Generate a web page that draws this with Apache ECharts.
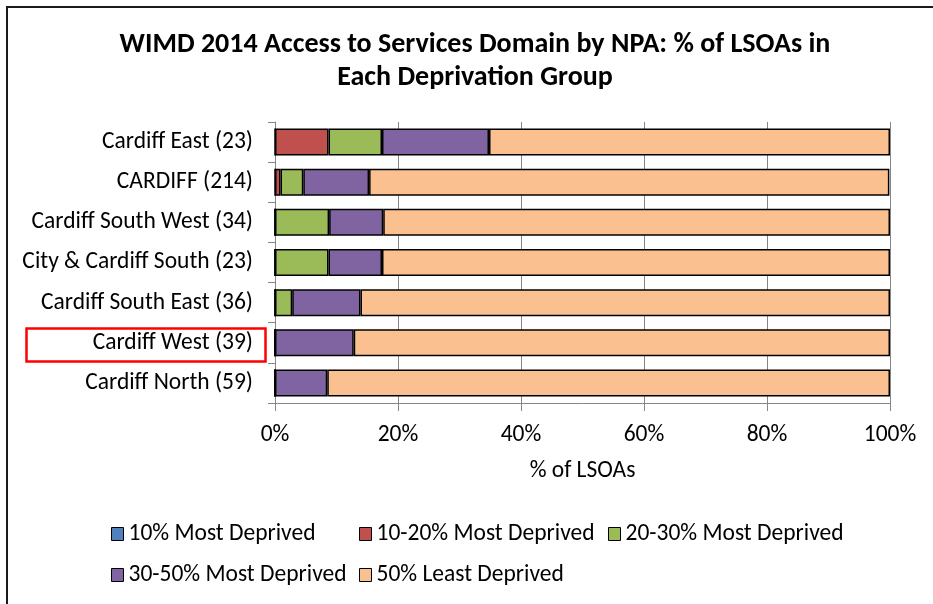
<!DOCTYPE html>
<html>
<head>
<meta charset="utf-8">
<title>WIMD 2014 Access to Services Domain by NPA</title>
<script src="https://cdn.jsdelivr.net/npm/echarts@6/dist/echarts.min.js"></script>
<style>
  html, body { margin: 0; padding: 0; background: #ffffff; }
  #chart { width: 933px; height: 604px; }
</style>
</head>
<body>
<div id="chart"></div>
<script>
// Neighbourhood Partnership Areas, listed top to bottom (LSOA count in brackets)
const areas = [
  'Cardiff East (23)',
  'CARDIFF (214)',
  'Cardiff South West (34)',
  'City & Cardiff South (23)',
  'Cardiff South East (36)',
  'Cardiff West (39)',
  'Cardiff North (59)'
];

// Share of LSOAs (%) in each deprivation group, same order as areas
const mostDeprived10   = [0, 0, 0, 0, 0, 0, 0];
const mostDeprived1020 = [8.7, 0.9, 0, 0, 0, 0, 0];
const mostDeprived2030 = [8.7, 3.7, 8.8, 8.7, 2.8, 0, 0];
const mostDeprived3050 = [17.4, 10.7, 8.8, 8.7, 11.1, 12.8, 8.5];
const leastDeprived50  = [65.2, 84.6, 82.4, 82.6, 86.1, 87.2, 91.5];

const groupNames = [
  '10% Most Deprived',
  '10-20% Most Deprived',
  '20-30% Most Deprived',
  '30-50% Most Deprived',
  '50% Least Deprived'
];
const groupValues = [mostDeprived10, mostDeprived1020, mostDeprived2030, mostDeprived3050, leastDeprived50];
const groupColors = ['#4F81BD', '#C0504D', '#9BBB59', '#8064A2', '#FAC090'];

const xTicks = [0, 20, 40, 60, 80, 100];

const FONT = "Carlito, 'Liberation Sans Narrow', 'Liberation Sans', sans-serif";
const LABEL_SIZE = 23.5;

const chart = echarts.init(document.getElementById('chart'), null, { renderer: 'canvas' });

const legendBase = {
  orient: 'vertical',
  top: 522,
  padding: 0,
  itemWidth: 12,
  itemHeight: 13,
  itemGap: 17,
  icon: 'rect',
  selectedMode: false,
  itemStyle: { borderColor: '#000', borderWidth: 1 },
  textStyle: { fontFamily: FONT, fontSize: LABEL_SIZE, lineHeight: 24, color: '#000' }
};

chart.setOption({
  animation: false,
  backgroundColor: '#ffffff',
  textStyle: { fontFamily: FONT },
  title: {
    text: 'WIMD 2014 Access to Services Domain by NPA: % of LSOAs in\nEach Deprivation Group',
    left: 475,
    textAlign: 'center',
    top: 28,
    padding: 0,
    textStyle: {
      fontFamily: FONT,
      fontSize: 28,
      fontWeight: 'bold',
      color: '#000',
      lineHeight: 33
    }
  },
  legend: [
    Object.assign({}, legendBase, { left: 111, data: [groupNames[0], groupNames[3]] }),
    Object.assign({}, legendBase, { left: 359, data: [groupNames[1], groupNames[4]] }),
    Object.assign({}, legendBase, { left: 608, data: [groupNames[2]] })
  ],
  grid: {
    left: 275,
    right: 43,
    top: 122,
    height: 281,
    containLabel: false
  },
  xAxis: {
    type: 'value',
    min: xTicks[0],
    max: xTicks[xTicks.length - 1],
    interval: xTicks[1] - xTicks[0],
    name: '% of LSOAs',
    nameLocation: 'middle',
    nameGap: 56,
    nameTextStyle: { fontFamily: FONT, fontSize: LABEL_SIZE, color: '#000' },
    axisLine: { show: true, lineStyle: { color: '#868686', width: 1 } },
    axisTick: { show: true, length: 8, lineStyle: { color: '#868686' } },
    axisLabel: {
      formatter: '{value}%',
      fontFamily: FONT,
      fontSize: LABEL_SIZE,
      color: '#000',
      margin: 20
    },
    splitLine: { show: true, lineStyle: { color: '#868686', width: 1 } }
  },
  yAxis: {
    type: 'category',
    inverse: true,
    data: areas,
    axisLine: { show: true, lineStyle: { color: '#868686', width: 1 } },
    axisTick: { show: true, length: 7, alignWithLabel: false, lineStyle: { color: '#868686' } },
    axisLabel: {
      fontFamily: FONT,
      fontSize: LABEL_SIZE,
      color: '#000',
      margin: 22
    },
    splitLine: { show: false }
  },
  series: groupNames.map((name, i) => ({
    name: name,
    type: 'bar',
    stack: 'share',
    barWidth: 27,
    data: groupValues[i],
    itemStyle: {
      color: groupColors[i],
      borderColor: '#000',
      borderWidth: 1.5
    },
    emphasis: { disabled: true }
  })),
  graphic: [
    {
      // outer chart frame
      type: 'rect',
      silent: true,
      shape: { x: 7, y: 7, width: 1000, height: 1000 },
      style: { fill: 'none', stroke: '#1a1a1a', lineWidth: 2 }
    },
    {
      // highlight around the Cardiff West label
      type: 'rect',
      silent: true,
      shape: { x: 26.5, y: 328.5, width: 239, height: 33 },
      style: { fill: 'none', stroke: '#FF0000', lineWidth: 2.5 }
    }
  ]
});
</script>
</body>
</html>
